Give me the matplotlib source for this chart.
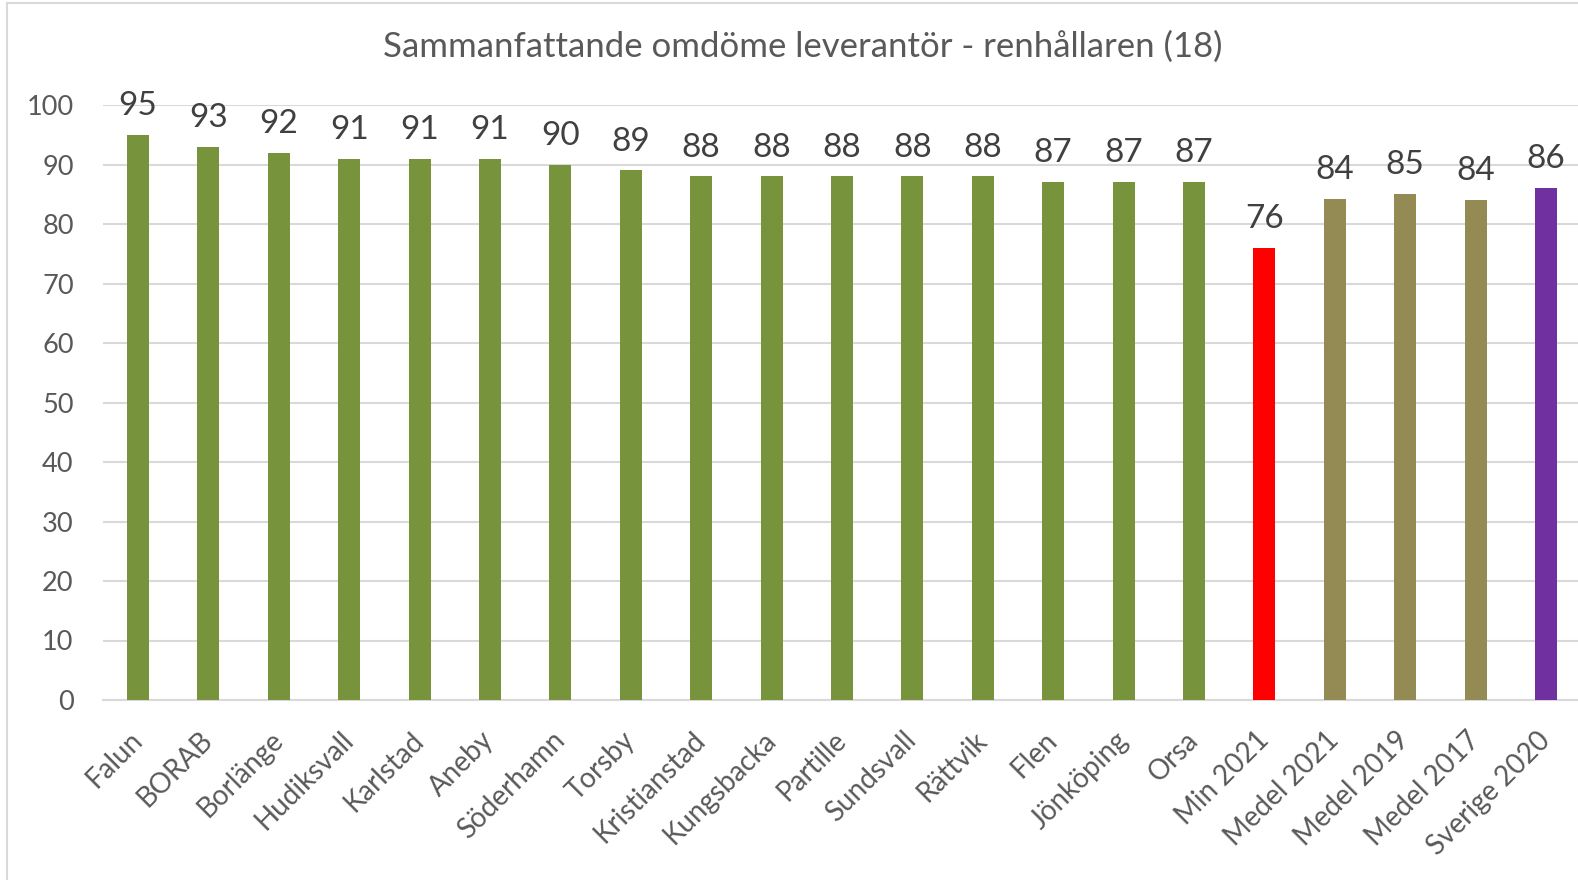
import numpy as np
import matplotlib.pyplot as plt
from matplotlib.lines import Line2D

categories = ["Falun", "BORAB", "Borlänge", "Hudiksvall", "Karlstad", "Aneby",
              "Söderhamn", "Torsby", "Kristianstad", "Kungsbacka", "Partille",
              "Sundsvall", "Rättvik", "Flen", "Jönköping", "Orsa", "Min 2021",
              "Medel 2021", "Medel 2019", "Medel 2017", "Sverige 2020"]
values = [95, 93, 92, 91, 91, 91, 90, 89, 88, 88, 88, 88, 88, 87, 87, 87, 76,
          84.2, 85.0, 84.0, 86.0]
groups = ["kommun"] * 16 + ["min", "medel", "medel", "medel", "sverige"]
title = "Sammanfattande omdöme leverantör - renhållaren (18)"

group_colors = {"kommun": "#77933C", "min": "#FF0000", "medel": "#948A54",
                "sverige": "#7030A0"}

plt.rcParams['font.family'] = ['Lato', 'DejaVu Sans']

fig = plt.figure(figsize=(15.78, 8.8), dpi=100)
ax = fig.add_axes([102.8 / 1578, 1 - 700 / 880, 1478.4 / 1578, 595 / 880])

x = np.arange(len(categories))
colors = [group_colors[g] for g in groups]
ax.bar(x, values, width=0.31, color=colors, zorder=3)

for xi, v in zip(x, values):
    ax.annotate(f"{v:.0f}", (xi, v), xytext=(0, 10), textcoords="offset points",
                ha="center", va="bottom", fontsize=24, color="#404040")

ax.set_xlim(-0.5, len(categories) - 0.5)
ax.set_ylim(0, 100)
ax.set_yticks(np.arange(0, 101, 10))
ax.yaxis.grid(True, color="#D9D9D9", linewidth=1.5, zorder=0)
ax.set_axisbelow(True)
for s in ["top", "right", "left"]:
    ax.spines[s].set_visible(False)
ax.spines["bottom"].set_color("#D9D9D9")
ax.spines["bottom"].set_linewidth(1.5)
ax.tick_params(axis="y", length=0, pad=21, labelsize=19.5, labelcolor="#595959")
ax.tick_params(axis="x", length=0, pad=26, labelsize=20, labelcolor="#595959")
ax.set_xticks(x)
ax.set_xticklabels(categories, rotation=45, ha="right", va="center",
                   rotation_mode="anchor")

fig.text(803 / 1578, 1 - 47 / 880, title, ha="center", va="center",
         fontsize=25, color="#595959")

# chart frame (cut off on the right/bottom in the reference)
fig.add_artist(Line2D([7 / 1578, 7 / 1578], [0, 1 - 3 / 880],
                      transform=fig.transFigure, color="#D9D9D9", lw=1.5))
fig.add_artist(Line2D([7 / 1578, 1], [1 - 3 / 880, 1 - 3 / 880],
                      transform=fig.transFigure, color="#D9D9D9", lw=1.5))

fig.savefig("out.png", dpi=100)
